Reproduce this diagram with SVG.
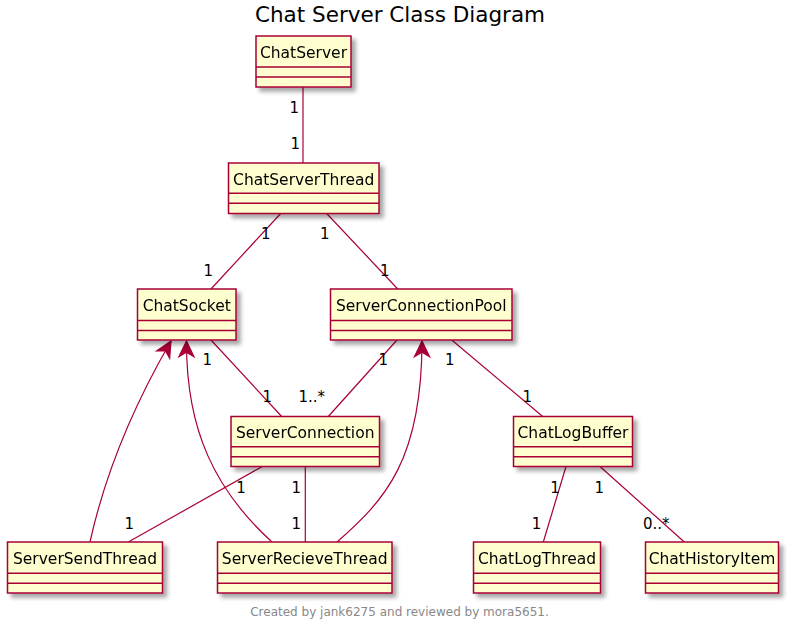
<svg xmlns="http://www.w3.org/2000/svg" width="792" height="633" viewBox="0 0 792 633">
<style>
.box{fill:#FEFECE;stroke:#A80036;stroke-width:1.5}
.sep{stroke:#A80036;stroke-width:1.5}
.name{font-family:"DejaVu Sans",sans-serif;font-size:15.5px;fill:#000;text-anchor:middle}
.lbl{font-family:"DejaVu Sans",sans-serif;font-size:15px;fill:#000}
.edge{fill:none;stroke:#A80036;stroke-width:1.2}
.title{font-family:"DejaVu Sans",sans-serif;font-size:21.5px;fill:#000;text-anchor:middle}
.foot{font-family:"DejaVu Sans",sans-serif;font-size:12px;fill:#888888;text-anchor:middle}
</style>
<defs>
<filter id="sh" x="-10%" y="-10%" width="130%" height="140%">
<feGaussianBlur in="SourceAlpha" stdDeviation="2"/>
<feOffset dx="4" dy="4" result="b"/>
<feComponentTransfer><feFuncA type="linear" slope="0.35"/></feComponentTransfer>
<feMerge><feMergeNode/><feMergeNode in="SourceGraphic"/></feMerge>
</filter>
<marker id="ah" markerUnits="userSpaceOnUse" markerWidth="20" markerHeight="20" viewBox="-14 -8 16 16" refX="0" refY="0" orient="auto">
<path d="M0,0 L-12.5,-6 L-9,0 L-12.5,6 Z" fill="#A80036" stroke="#A80036" stroke-width="1"/>
</marker>
</defs>
<rect width="792" height="633" fill="#FFFFFF"/>
<text class="title" x="400" y="22">Chat Server Class Diagram</text>

<g id="connectors">
<line class="edge" x1="303" y1="87" x2="303" y2="163"/>
<line class="edge" x1="280.7" y1="213.5" x2="211" y2="289"/>
<line class="edge" x1="326.7" y1="213.5" x2="397.7" y2="289"/>
<line class="edge" x1="211" y1="340" x2="281.7" y2="416.5"/>
<line class="edge" x1="397" y1="340" x2="328.3" y2="416.5"/>
<line class="edge" x1="451.7" y1="340" x2="542.7" y2="416.5"/>
<line class="edge" x1="262.3" y1="466.5" x2="128.3" y2="542"/>
<line class="edge" x1="305.3" y1="466.5" x2="305.3" y2="542"/>
<line class="edge" x1="566" y1="466.5" x2="543.3" y2="542"/>
<line class="edge" x1="600" y1="466.5" x2="684.3" y2="542"/>
<path class="edge" d="M90,542 C107,465 138,398 171,341" marker-end="url(#ah)"/>
<path class="edge" d="M272,542 C215,490 186,430 186.5,341" marker-end="url(#ah)"/>
<path class="edge" d="M337,542 C385,500 422,460 422,341" marker-end="url(#ah)"/>
<text class="lbl" x="289.5" y="113">1</text>
<text class="lbl" x="290.5" y="149">1</text>
<text class="lbl" x="261" y="239">1</text>
<text class="lbl" x="203.5" y="276">1</text>
<text class="lbl" x="320" y="239">1</text>
<text class="lbl" x="380" y="276">1</text>
<text class="lbl" x="202.5" y="365">1</text>
<text class="lbl" x="262.5" y="402">1</text>
<text class="lbl" x="378.5" y="365">1</text>
<text class="lbl" x="298.5" y="402">1..*</text>
<text class="lbl" x="445" y="365">1</text>
<text class="lbl" x="522.5" y="402">1</text>
<text class="lbl" x="236.2" y="493">1</text>
<text class="lbl" x="124.5" y="529">1</text>
<text class="lbl" x="291.5" y="493">1</text>
<text class="lbl" x="291.5" y="529">1</text>
<text class="lbl" x="550.2" y="493">1</text>
<text class="lbl" x="531.8" y="529">1</text>
<text class="lbl" x="594.5" y="493">1</text>
<text class="lbl" x="643" y="529">0..*</text>
</g>

<g id="ChatServer" filter="url(#sh)">
<rect class="box" x="256" y="36" width="95" height="51"/>
<line class="sep" x1="256" y1="67" x2="351" y2="67"/>
<line class="sep" x1="256" y1="77" x2="351" y2="77"/>
<text class="name" x="303.5" y="58">ChatServer</text>
</g>
<g id="ChatServerThread" filter="url(#sh)">
<rect class="box" x="228.5" y="163" width="150.5" height="50.5"/>
<line class="sep" x1="228.5" y1="193.3" x2="379" y2="193.3"/>
<line class="sep" x1="228.5" y1="203.3" x2="379" y2="203.3"/>
<text class="name" x="303.7" y="184.5">ChatServerThread</text>
</g>
<g id="ChatSocket" filter="url(#sh)">
<rect class="box" x="137.5" y="289" width="98.5" height="51"/>
<line class="sep" x1="137.5" y1="320.5" x2="236" y2="320.5"/>
<line class="sep" x1="137.5" y1="330.5" x2="236" y2="330.5"/>
<text class="name" x="186.7" y="311">ChatSocket</text>
</g>
<g id="ServerConnectionPool" filter="url(#sh)">
<rect class="box" x="330.5" y="289" width="181.5" height="51"/>
<line class="sep" x1="330.5" y1="320.5" x2="512" y2="320.5"/>
<line class="sep" x1="330.5" y1="330.5" x2="512" y2="330.5"/>
<text class="name" x="421.2" y="311">ServerConnectionPool</text>
</g>
<g id="ServerConnection" filter="url(#sh)">
<rect class="box" x="231" y="416.5" width="148.5" height="50"/>
<line class="sep" x1="231" y1="446.7" x2="379.5" y2="446.7"/>
<line class="sep" x1="231" y1="456.7" x2="379.5" y2="456.7"/>
<text class="name" x="305.2" y="438">ServerConnection</text>
</g>
<g id="ChatLogBuffer" filter="url(#sh)">
<rect class="box" x="513.5" y="416.5" width="119" height="50"/>
<line class="sep" x1="513.5" y1="446.7" x2="632.5" y2="446.7"/>
<line class="sep" x1="513.5" y1="456.7" x2="632.5" y2="456.7"/>
<text class="name" x="573" y="438">ChatLogBuffer</text>
</g>
<g id="ServerSendThread" filter="url(#sh)">
<rect class="box" x="7.5" y="542" width="155" height="51"/>
<line class="sep" x1="7.5" y1="573.3" x2="162.5" y2="573.3"/>
<line class="sep" x1="7.5" y1="583.3" x2="162.5" y2="583.3"/>
<text class="name" x="85" y="564">ServerSendThread</text>
</g>
<g id="ServerRecieveThread" filter="url(#sh)">
<rect class="box" x="217.5" y="542" width="174.5" height="51"/>
<line class="sep" x1="217.5" y1="573.3" x2="392" y2="573.3"/>
<line class="sep" x1="217.5" y1="583.3" x2="392" y2="583.3"/>
<text class="name" x="304.7" y="564">ServerRecieveThread</text>
</g>
<g id="ChatLogThread" filter="url(#sh)">
<rect class="box" x="473.5" y="542" width="127" height="51"/>
<line class="sep" x1="473.5" y1="573.3" x2="600.5" y2="573.3"/>
<line class="sep" x1="473.5" y1="583.3" x2="600.5" y2="583.3"/>
<text class="name" x="537" y="564">ChatLogThread</text>
</g>
<g id="ChatHistoryItem" filter="url(#sh)">
<rect class="box" x="645.5" y="542" width="133" height="51"/>
<line class="sep" x1="645.5" y1="573.3" x2="778.5" y2="573.3"/>
<line class="sep" x1="645.5" y1="583.3" x2="778.5" y2="583.3"/>
<text class="name" x="712" y="564">ChatHistoryItem</text>
</g>

<text class="foot" x="399.5" y="616">Created by jank6275 and reviewed by mora5651.</text>
</svg>
